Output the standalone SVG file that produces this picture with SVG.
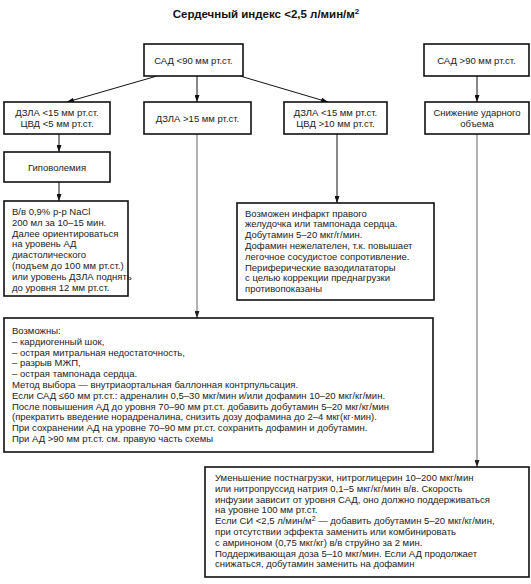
<svg xmlns="http://www.w3.org/2000/svg" width="531" height="584" viewBox="0 0 531 584">
<defs>
<marker id="ah" markerUnits="userSpaceOnUse" markerWidth="7" markerHeight="5" refX="7" refY="2.5" orient="auto"><path d="M0,0 L7,2.5 L0,5 z" fill="#111"/></marker>
<marker id="ahg" markerUnits="userSpaceOnUse" markerWidth="7" markerHeight="5" refX="7" refY="2.5" orient="auto"><path d="M0,0 L7,2.5 L0,5 z" fill="#222"/></marker>
</defs>
<style>
rect.box{fill:#fff;stroke:#111;stroke-width:1.6}
text{font-family:"Liberation Sans",Arial,sans-serif;font-size:9.5px;fill:#222}
.c{text-anchor:middle}
.title{font-size:11.5px;font-weight:bold;fill:#111}
.ln{stroke:#111;stroke-width:1;fill:none}
.lg{stroke:#888;stroke-width:1.3;fill:none}
</style>
<rect width="531" height="584" fill="#fff"/>
<text class="title c" x="266" y="18">Сердечный индекс &lt;2,5 л/мин/м<tspan dy="-4" font-size="8">2</tspan></text>

<g id="connectors">
<line class="ln" x1="157" y1="76" x2="67" y2="102" marker-end="url(#ah)"/>
<line class="ln" x1="197" y1="76" x2="197" y2="102" marker-end="url(#ah)"/>
<line class="ln" x1="240" y1="76" x2="328" y2="102" marker-end="url(#ah)"/>
<line class="ln" x1="477" y1="76" x2="477" y2="102" marker-end="url(#ah)"/>
<line class="ln" x1="59" y1="134" x2="59" y2="152" marker-end="url(#ah)"/>
<line class="ln" x1="59" y1="182" x2="59" y2="201" marker-end="url(#ah)"/>
<line class="ln" x1="337" y1="134" x2="337" y2="203" marker-end="url(#ah)"/>
<line class="lg" x1="197" y1="134" x2="197" y2="318" marker-end="url(#ahg)"/>
<line class="lg" x1="477" y1="134" x2="477" y2="467" marker-end="url(#ahg)"/>
</g>

<g id="sad-low">
<rect class="box" x="144" y="44" width="99" height="32"/>
<text class="c" x="193.5" y="63.5">САД &lt;90 мм рт.ст.</text>
</g>
<g id="sad-high">
<rect class="box" x="424" y="44" width="105" height="32"/>
<text class="c" x="476.5" y="63.5">САД &gt;90 мм рт.ст.</text>
</g>
<g id="dzla-low-cvd-low">
<rect class="box" x="4" y="102" width="106" height="32"/>
<text class="c" x="57" y="115.5">ДЗЛА &lt;15 мм рт.ст.</text>
<text class="c" x="57" y="126.5">ЦВД &lt;5 мм рт.ст.</text>
</g>
<g id="dzla-high">
<rect class="box" x="144" y="102" width="107" height="32"/>
<text class="c" x="197.5" y="121.5">ДЗЛА &gt;15 мм рт.ст.</text>
</g>
<g id="dzla-low-cvd-high">
<rect class="box" x="284" y="102" width="103" height="32"/>
<text class="c" x="335.5" y="115.5">ДЗЛА &lt;15 мм рт.ст.</text>
<text class="c" x="335.5" y="126.5">ЦВД &gt;10 мм рт.ст.</text>
</g>
<g id="stroke-volume">
<rect class="box" x="425" y="102" width="104" height="32"/>
<text class="c" x="477" y="115.5">Снижение ударного</text>
<text class="c" x="477" y="126.5">объема</text>
</g>
<g id="hypovolemia">
<rect class="box" x="4" y="152" width="106" height="30"/>
<text class="c" x="57" y="170.5">Гиповолемия</text>
</g>
<g id="nacl">
<rect class="box" x="4" y="201" width="124" height="95"/>
<text x="12" y="215">
<tspan x="12">В/в 0,9% р-р NaCl</tspan>
<tspan x="12" dy="10.8">200 мл за 10–15 мин.</tspan>
<tspan x="12" dy="10.8">Далее ориентироваться</tspan>
<tspan x="12" dy="10.8">на уровень АД</tspan>
<tspan x="12" dy="10.8">диастолического</tspan>
<tspan x="12" dy="10.8">(подъем до 100 мм рт.ст.)</tspan>
<tspan x="12" dy="10.8">или уровень ДЗЛА поднять</tspan>
<tspan x="12" dy="10.8">до уровня 12 мм рт.ст.</tspan>
</text>
</g>
<g id="rv-infarct">
<rect class="box" x="237" y="203" width="197" height="97"/>
<text x="245" y="216.5">
<tspan x="245">Возможен инфаркт правого</tspan>
<tspan x="245" dy="10.8">желудочка или тампонада сердца.</tspan>
<tspan x="245" dy="10.8">Добутамин 5–20 мкг/г/мин.</tspan>
<tspan x="245" dy="10.8">Дофамин нежелателен, т.к. повышает</tspan>
<tspan x="245" dy="10.8">легочное сосудистое сопротивление.</tspan>
<tspan x="245" dy="10.8">Периферические вазодилататоры</tspan>
<tspan x="245" dy="10.8">с целью коррекции преднагрузки</tspan>
<tspan x="245" dy="10.8">противопоказаны</tspan>
</text>
</g>
<g id="shock">
<rect class="box" x="4" y="318" width="429" height="134"/>
<text x="12" y="334">
<tspan x="12">Возможны:</tspan>
<tspan x="12" dy="10.8">– кардиогенный шок,</tspan>
<tspan x="12" dy="10.8">– острая митральная недостаточность,</tspan>
<tspan x="12" dy="10.8">– разрыв МЖП,</tspan>
<tspan x="12" dy="10.8">– острая тампонада сердца.</tspan>
<tspan x="12" dy="10.8">Метод выбора — внутриаортальная баллонная контрпульсация.</tspan>
<tspan x="12" dy="10.8">Если САД ≤60 мм рт.ст.: адреналин 0,5–30 мкг/мин и/или дофамин 10–20 мкг/кг/мин.</tspan>
<tspan x="12" dy="10.8">После повышения АД до уровня 70–90 мм рт.ст. добавить добутамин 5–20 мкг/кг/мин</tspan>
<tspan x="12" dy="10.8">(прекратить введение норадреналина, снизить дозу дофамина до 2–4 мкг(кг·мин).</tspan>
<tspan x="12" dy="10.8">При сохранении АД на уровне 70–90 мм рт.ст. сохранить дофамин и добутамин.</tspan>
<tspan x="12" dy="10.8">При АД &gt;90 мм рт.ст. см. правую часть схемы</tspan>
</text>
</g>
<g id="afterload">
<rect class="box" x="205" y="467" width="324" height="110"/>
<text x="215" y="481">
<tspan x="215">Уменьшение постнагрузки, нитроглицерин 10–200 мкг/мин</tspan>
<tspan x="215" dy="10.8">или нитропруссид натрия 0,1–5 мкг/кг/мин в/в. Скорость</tspan>
<tspan x="215" dy="10.8">инфузии зависит от уровня САД, оно должно поддерживаться</tspan>
<tspan x="215" dy="10.8">на уровне 100 мм рт.ст.</tspan>
<tspan x="215" dy="10.8">Если СИ &lt;2,5 л/мин/м<tspan dy="-3.5" font-size="7">2</tspan><tspan dy="3.5">  — добавить добутамин 5–20 мкг/кг/мин,</tspan></tspan>
<tspan x="215" dy="10.8">при отсутствии эффекта заменить или комбинировать</tspan>
<tspan x="215" dy="10.8">с амриноном (0,75 мкг/кг) в/в струйно за 2 мин.</tspan>
<tspan x="215" dy="10.8">Поддерживающая доза 5–10 мкг/мин. Если АД продолжает</tspan>
<tspan x="215" dy="10.8">снижаться, добутамин заменить на дофамин</tspan>
</text>
</g>
</svg>
